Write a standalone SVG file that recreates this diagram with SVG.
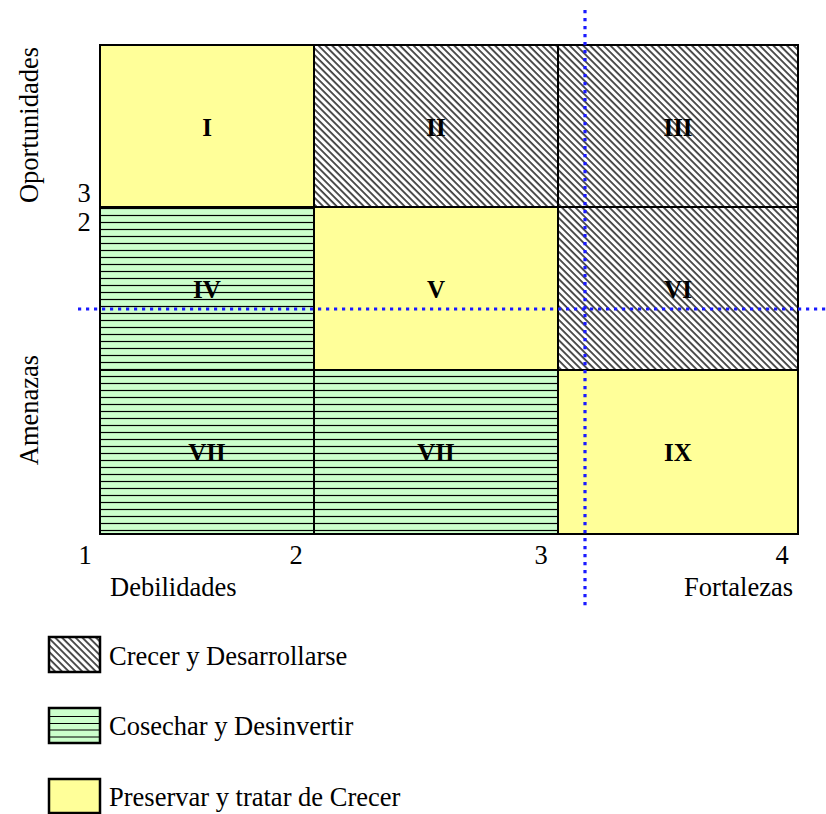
<svg xmlns="http://www.w3.org/2000/svg" width="826" height="814" viewBox="0 0 826 814">
<defs>
<pattern id="hatch" patternUnits="userSpaceOnUse" width="4.8" height="4.8" patternTransform="rotate(-45)">
<rect width="4.8" height="4.8" fill="#ffffff"/>
<line x1="1" y1="0" x2="1" y2="4.8" stroke="#000" stroke-width="1.35"/>
</pattern>
<pattern id="stripes" patternUnits="userSpaceOnUse" x="0" y="2" width="10" height="7">
<rect width="10" height="7" fill="#ccffcc"/>
<line x1="0" y1="3.5" x2="10" y2="3.5" stroke="#000" stroke-width="1.2"/>
</pattern>
</defs>
<style>
.cell{stroke:#000;stroke-width:2}
.yel{fill:#ffff99}
.grn{fill:url(#stripes)}
.hat{fill:url(#hatch)}
.num{font-family:"Liberation Serif",serif;font-weight:bold;font-size:25px;text-anchor:middle}
.lbl{font-family:"Liberation Serif",serif;font-size:26.5px}
.dot{stroke:#1a1aff;stroke-width:3.2;stroke-dasharray:3.2 4.8;fill:none}
.leg{stroke:#000;stroke-width:2.5}
</style>
<g id="cell-I"><rect class="cell yel" x="100" y="45" width="214" height="162"/><text class="num" x="207" y="136">I</text></g>
<g id="cell-II"><rect class="cell hat" x="314" y="45" width="244" height="162"/><text class="num" x="436" y="136">II</text></g>
<g id="cell-III"><rect class="cell hat" x="558" y="45" width="240" height="162"/><text class="num" x="678" y="136">III</text></g>
<g id="cell-IV"><rect class="cell grn" x="100" y="207" width="214" height="163"/><text class="num" x="207" y="298">IV</text></g>
<g id="cell-V"><rect class="cell yel" x="314" y="207" width="244" height="163"/><text class="num" x="436" y="298">V</text></g>
<g id="cell-VI"><rect class="cell hat" x="558" y="207" width="240" height="163"/><text class="num" x="678" y="298">VI</text></g>
<g id="cell-VII-a"><rect class="cell grn" x="100" y="370" width="214" height="164"/><text class="num" x="207" y="461">VII</text></g>
<g id="cell-VII-b"><rect class="cell grn" x="314" y="370" width="244" height="164"/><text class="num" x="436" y="461">VII</text></g>
<g id="cell-IX"><rect class="cell yel" x="558" y="370" width="240" height="164"/><text class="num" x="678" y="461">IX</text></g>
<g id="axes">
<text class="lbl" x="85" y="564" text-anchor="middle">1</text>
<text class="lbl" x="296" y="564" text-anchor="middle">2</text>
<text class="lbl" x="541" y="564" text-anchor="middle">3</text>
<text class="lbl" x="782" y="564" text-anchor="middle">4</text>
<text class="lbl" x="110" y="596">Debilidades</text>
<text class="lbl" x="793" y="596" text-anchor="end">Fortalezas</text>
<text class="lbl" x="84" y="202" text-anchor="middle">3</text>
<text class="lbl" x="84" y="231" text-anchor="middle">2</text>
<text class="lbl" transform="translate(38,125) rotate(-90)" text-anchor="middle">Oportunidades</text>
<text class="lbl" transform="translate(38,410) rotate(-90)" text-anchor="middle">Amenazas</text>
</g>
<g id="connectors">
<line class="dot" x1="585" y1="10" x2="585" y2="608"/>
<line class="dot" x1="78" y1="309" x2="826" y2="309"/>
</g>
<g id="legend-crecer"><rect class="leg hat" x="49" y="637" width="51" height="35"/><text class="lbl" x="109" y="665">Crecer y Desarrollarse</text></g>
<g id="legend-cosechar"><rect class="leg" x="49" y="708" width="51" height="35" fill="#ccffcc"/>
<path d="M50 716.5H99M50 723.5H99M50 730H99M50 737H99" stroke="#000" stroke-width="1.2"/>
<text class="lbl" x="109" y="735">Cosechar y Desinvertir</text></g>
<g id="legend-preservar"><rect class="leg yel" x="49" y="779" width="51" height="34"/><text class="lbl" x="109" y="806">Preservar y tratar de Crecer</text></g>
</svg>
